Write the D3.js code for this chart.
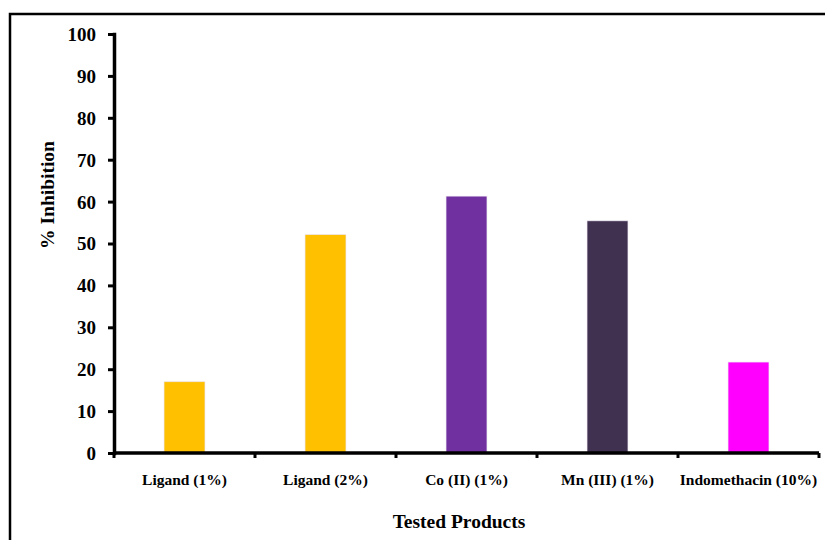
<!DOCTYPE html>
<html>
<head>
<meta charset="utf-8">
<script src="https://cdn.jsdelivr.net/npm/d3@7"></script>
<style>
  html, body { margin: 0; padding: 0; background: #fff; }
  svg { display: block; }
  text { font-family: "Liberation Serif", "Times New Roman", serif; font-weight: bold; fill: #000; }
</style>
</head>
<body>
<script>
// Percentage inhibition for each tested product
const categories = ["Ligand (1%)", "Ligand (2%)", "Co (II) (1%)", "Mn (III) (1%)", "Indomethacin (10%)"];
const inhibition = [17.0, 52.1, 61.3, 55.4, 21.7];
const barColors = ["#FFC000", "#FFC000", "#7030A0", "#403151", "#FF00FF"];
const yTicks = [0, 10, 20, 30, 40, 50, 60, 70, 80, 90, 100];

const W = 825, H = 540;
const plot = { left: 114, right: 819, top: 34, bottom: 453 };

const svg = d3.select("body").append("svg")
  .attr("width", W).attr("height", H);

// chart area frame (top and left edges)
svg.append("path")
  .attr("d", `M10,${H} L10,14 L${W},14`)
  .attr("fill", "none").attr("stroke", "#000").attr("stroke-width", 2.5);

const x = d3.scaleBand().domain(categories).range([plot.left, plot.right]).paddingInner(0.71).paddingOuter(0.355);
const xCat = d3.scaleBand().domain(categories).range([plot.left, plot.right]);
const y = d3.scaleLinear().domain([0, 100]).range([plot.bottom, plot.top]);

// bars
svg.append("g").selectAll("rect")
  .data(categories)
  .join("rect")
  .attr("x", d => x(d))
  .attr("width", x.bandwidth())
  .attr("y", (d, i) => y(inhibition[i]))
  .attr("height", (d, i) => y(0) - y(inhibition[i]))
  .attr("fill", (d, i) => barColors[i])
  .attr("stroke", "#e8e0ee").attr("stroke-width", 0.6);

// y axis
const yAxis = svg.append("g")
  .attr("transform", `translate(${plot.left},0)`)
  .call(d3.axisLeft(y).tickValues(yTicks).tickSize(6).tickPadding(12).tickSizeOuter(0));
yAxis.select(".domain").attr("stroke-width", 3.5).attr("stroke-linecap", "square");
yAxis.selectAll(".tick line").attr("stroke-width", 3);
yAxis.selectAll(".tick text").style("font-size", "19px").attr("dy", "0.34em");

// x axis: ticks mark the category boundaries
const boundaries = categories.map(c => xCat(c)).concat([plot.right]);
const xAxisG = svg.append("g").attr("transform", `translate(0,${plot.bottom})`);
xAxisG.append("line")
  .attr("x1", plot.left).attr("x2", plot.right)
  .attr("stroke", "#000").attr("stroke-width", 3.5);
xAxisG.selectAll("line.tk").data(boundaries).join("line")
  .attr("class", "tk")
  .attr("x1", d => d).attr("x2", d => d)
  .attr("y1", 0).attr("y2", 5)
  .attr("stroke", "#000").attr("stroke-width", 3);
xAxisG.selectAll("text").data(categories).join("text")
  .attr("x", d => xCat(d) + xCat.bandwidth() / 2)
  .attr("y", 32)
  .attr("text-anchor", "middle")
  .style("font-size", "15.5px")
  .text(d => d);

// axis titles
svg.append("text")
  .attr("transform", "translate(54,195) rotate(-90)")
  .attr("text-anchor", "middle")
  .style("font-size", "19.5px")
  .text("% Inhibition");

svg.append("text")
  .attr("x", 459).attr("y", 528)
  .attr("text-anchor", "middle")
  .style("font-size", "19.5px")
  .text("Tested Products");
</script>
</body>
</html>
